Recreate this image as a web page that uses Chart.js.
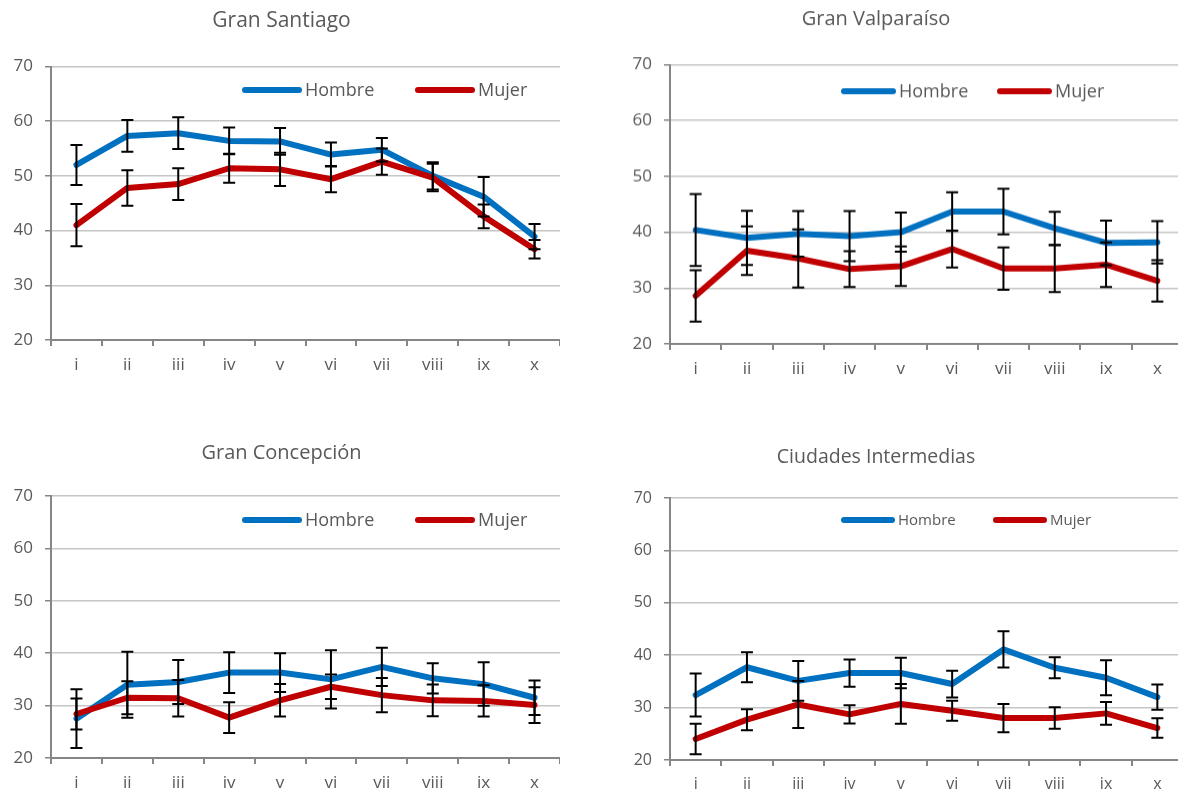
<!DOCTYPE html>
<html>
<head>
<meta charset="utf-8">
<script src="https://cdn.jsdelivr.net/npm/chart.js@4"></script>
<style>
html, body { margin: 0; padding: 0; background: #fff; overflow: hidden; width: 1178px; height: 791px; }
canvas { position: absolute; }
</style>
</head>
<body>
<canvas id="santiago"></canvas>
<canvas id="valparaiso"></canvas>
<canvas id="concepcion"></canvas>
<canvas id="intermedias"></canvas>
<script>
// categorias y ticks
const categories = ['i', 'ii', 'iii', 'iv', 'v', 'vi', 'vii', 'viii', 'ix', 'x'];
const yTicks = [20, 30, 40, 50, 60, 70];
const seriesNames = ['Hombre', 'Mujer'];

// Gran Santiago
const santiagoHombre = [52.0, 57.3, 57.8, 56.4, 56.3, 53.9, 54.8, 50.0, 46.2, 38.9];
const santiagoHombreErr = [3.65, 2.9, 2.9, 2.45, 2.45, 2.2, 2.15, 2.5, 3.6, 2.3];
const santiagoMujer = [41.0, 47.8, 48.5, 51.4, 51.2, 49.4, 52.6, 49.7, 42.6, 36.6];
const santiagoMujerErr = [3.85, 3.25, 2.9, 2.65, 3.05, 2.4, 2.4, 2.5, 2.15, 1.7];

// Gran Valparaíso
const valpoHombre = [40.4, 39.0, 39.7, 39.3, 40.0, 43.7, 43.7, 40.7, 38.1, 38.2];
const valpoHombreErr = [6.45, 4.85, 4.1, 4.5, 3.5, 3.45, 4.1, 2.95, 4.0, 3.8];
const valpoMujer = [28.6, 36.7, 35.3, 33.4, 33.9, 37.0, 33.5, 33.5, 34.2, 31.3];
const valpoMujerErr = [4.6, 4.35, 5.2, 3.2, 3.55, 3.3, 3.8, 4.2, 4.0, 3.7];

// Gran Concepción
const concepHombre = [27.5, 34.0, 34.5, 36.3, 36.3, 35.0, 37.4, 35.2, 34.1, 31.5];
const concepHombreErr = [5.6, 6.3, 4.2, 3.9, 3.7, 5.55, 3.65, 2.9, 4.15, 3.3];
const concepMujer = [28.4, 31.5, 31.4, 27.7, 31.0, 33.6, 32.0, 31.0, 30.9, 30.1];
const concepMujerErr = [2.95, 3.15, 3.5, 2.95, 3.1, 2.35, 3.25, 3.05, 3.0, 3.4];

// Ciudades Intermedias
const intermHombre = [32.4, 37.7, 35.1, 36.6, 36.6, 34.5, 41.1, 37.6, 35.7, 32.0];
const intermHombreErr = [4.1, 2.85, 3.8, 2.6, 2.9, 2.55, 3.45, 2.0, 3.35, 2.4];
const intermMujer = [24.0, 27.7, 30.6, 28.7, 30.7, 29.4, 28.0, 28.0, 28.9, 26.1];
const intermMujerErr = [2.9, 2.0, 4.5, 1.75, 3.8, 1.9, 2.7, 2.05, 2.15, 1.85];

const textColor = '#595959';
const axisColor = '#868686';
const gridColor = '#c6c6c6';
const colors = ['#0070C0', '#C00000'];
const fontFamily = '"Open Sans", "Noto Sans", sans-serif';

const errorBars = {
    id: 'errorBars',
    afterDatasetsDraw(chart) {
        const ctx = chart.ctx;
        const y = chart.scales.y;
        ctx.save();
        ctx.strokeStyle = '#000';
        ctx.lineWidth = 2;
        chart.data.datasets.forEach((ds, i) => {
            chart.getDatasetMeta(i).data.forEach((pt, j) => {
                const hi = y.getPixelForValue(ds.data[j] + ds.errors[j]);
                const lo = y.getPixelForValue(ds.data[j] - ds.errors[j]);
                ctx.beginPath();
                ctx.moveTo(pt.x, hi); ctx.lineTo(pt.x, lo);
                ctx.moveTo(pt.x - 6, hi); ctx.lineTo(pt.x + 6, hi);
                ctx.moveTo(pt.x - 6, lo); ctx.lineTo(pt.x + 6, lo);
                ctx.stroke();
            });
        });
        ctx.restore();
    }
};

const lineLegend = {
    id: 'lineLegend',
    afterDraw(chart, args, opts) {
        const ctx = chart.ctx;
        ctx.save();
        ctx.font = opts.fontSize + 'px ' + fontFamily;
        ctx.textBaseline = 'middle';
        ctx.fillStyle = textColor;
        ctx.lineCap = 'round';
        ctx.lineWidth = 6;
        chart.data.datasets.forEach((ds, i) => {
            const x0 = opts.xs[i];
            ctx.strokeStyle = ds.borderColor;
            ctx.beginPath();
            ctx.moveTo(x0 + 3, opts.y);
            ctx.lineTo(x0 + opts.len - 3, opts.y);
            ctx.stroke();
            ctx.fillText(ds.label, x0 + opts.len + 3, opts.y + 1);
        });
        ctx.restore();
    }
};

const panels = [
    { id: 'santiago', title: 'Gran Santiago', h: santiagoHombre, he: santiagoHombreErr, m: santiagoMujer, me: santiagoMujerErr,
      left: 3, top: 0, width: 557, axisW: 48, titleY: 21, areaTop: 66.5, areaBottom: 340, titleSize: 21,
      legend: { xs: [239, 412], len: 60, y: 90, fontSize: 18 }, tickSize: 17 },
    { id: 'valparaiso', title: 'Gran Valparaíso', h: valpoHombre, he: valpoHombreErr, m: valpoMujer, me: valpoMujerErr,
      left: 569, top: 0, width: 614, axisW: 101, titleY: 19, areaTop: 64.5, areaBottom: 343.5, titleSize: 20,
      legend: { xs: [272, 428], len: 55, y: 91, fontSize: 18 }, tickSize: 17 },
    { id: 'concepcion', title: 'Gran Concepción', h: concepHombre, he: concepHombreErr, m: concepMujer, me: concepMujerErr,
      left: 3, top: 430, width: 557, axisW: 48, titleY: 453, areaTop: 496, areaBottom: 758, titleSize: 20,
      legend: { xs: [239, 412], len: 60, y: 90, fontSize: 18 }, tickSize: 17 },
    { id: 'intermedias', title: 'Ciudades Intermedias', h: intermHombre, he: intermHombreErr, m: intermMujer, me: intermMujerErr,
      left: 569, top: 430, width: 614, axisW: 101, titleY: 457, areaTop: 498, areaBottom: 760, titleSize: 19.5,
      legend: { xs: [272, 424], len: 54, y: 90, fontSize: 15 }, tickSize: 16 }
];

const xAxisH = 40;

panels.forEach(p => {
    const canvas = document.getElementById(p.id);
    const height = p.areaBottom - p.top + xAxisH;
    canvas.width = p.width;
    canvas.height = height;
    canvas.style.left = p.left + 'px';
    canvas.style.top = p.top + 'px';
    canvas.style.width = p.width + 'px';
    canvas.style.height = height + 'px';
    const half = p.titleSize * 1.2 / 2;

    new Chart(canvas, {
        type: 'line',
        data: {
            labels: categories,
            datasets: [
                { label: seriesNames[0], data: p.h, errors: p.he, borderColor: colors[0], order: 1 },
                { label: seriesNames[1], data: p.m, errors: p.me, borderColor: colors[1], order: 0 }
            ]
        },
        options: {
            responsive: false,
            animation: false,
            devicePixelRatio: 1,
            layout: { padding: 0 },
            elements: {
                line: { borderWidth: 6, tension: 0, borderCapStyle: 'round', borderJoinStyle: 'round', fill: false },
                point: { radius: 0, hoverRadius: 0 }
            },
            plugins: {
                legend: { display: false },
                tooltip: { enabled: false },
                title: {
                    display: true,
                    text: p.title,
                    color: textColor,
                    font: { family: fontFamily, size: p.titleSize, weight: 'normal', lineHeight: 1.2 },
                    padding: { top: p.titleY - p.top - half, bottom: p.areaTop - p.titleY - half }
                },
                lineLegend: p.legend
            },
            scales: {
                x: {
                    type: 'category',
                    offset: true,
                    afterFit: s => { s.height = xAxisH; },
                    grid: { offset: true, drawOnChartArea: false, drawTicks: true, tickLength: 6, tickColor: axisColor, lineWidth: 2 },
                    border: { color: axisColor, width: 2 },
                    ticks: { color: textColor, padding: 9, font: { family: fontFamily, size: p.tickSize } }
                },
                y: {
                    min: yTicks[0],
                    max: yTicks[yTicks.length - 1],
                    afterFit: s => { s.width = p.axisW; },
                    grid: { color: gridColor, lineWidth: 1.5, tickLength: 6, tickColor: axisColor },
                    border: { color: axisColor, width: 2 },
                    ticks: { stepSize: yTicks[1] - yTicks[0], color: textColor, padding: 12, font: { family: fontFamily, size: p.tickSize } }
                }
            }
        },
        plugins: [errorBars, lineLegend]
    });
});
</script>
</body>
</html>
